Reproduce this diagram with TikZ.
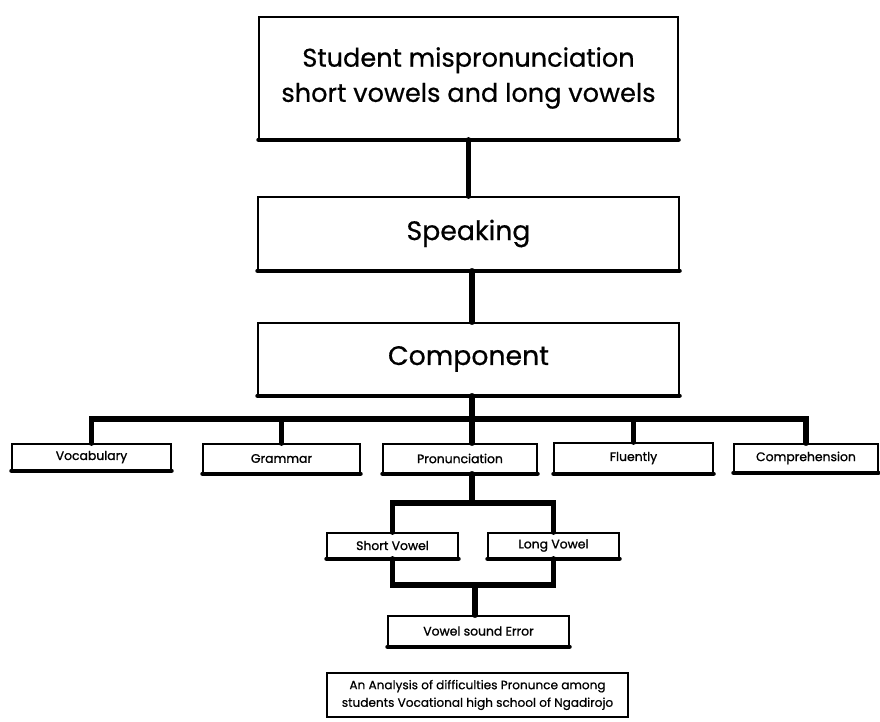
\documentclass[tikz,border=0pt]{standalone}
\usepackage{fontspec}
\setmainfont{Poppins}[FakeBold=0.6]
\newfontfamily\labelfont{Poppins}[FakeBold=1.2]
\tikzset{
  box/.style 2 args={
    minimum width=#1*0.025cm,
    minimum height=#2*0.025cm,
    inner sep=0pt, align=center,
    draw, line width=0.9pt, fill=white,
  },
  head/.style={font=\fontsize{19}{26}\selectfont},
  item/.style={font=\labelfont\fontsize{8.8}{11}\selectfont},
  base/.style={line width=3pt, line cap=round},
  link/.style={line width=3.6pt, line cap=round},
}

\begin{document}
\begin{tikzpicture}[x=0.025cm, y=-0.025cm]
\useasboundingbox (0,0) rectangle (880,722);
\node[box={419}{122}, head, font=\fontsize{18.2}{25}\selectfont] (top) at (468.5,78)
  {Student mispronunciation\\short vowels and long vowels};
\node[box={421}{73}, head] (speak) at (468.5,233.5) {Speaking};
\node[box={421}{72}, head] (comp) at (468.5,359) {Component};
\foreach \n/\x/\y/\w/\h/\t in {
    voc/91.5/457/159/26/Vocabulary,
    gram/281.5/458.5/157/29/Grammar,
    pron/460/458.5/154/29/Pronunciation,
    flu/633.5/458/159/30/Fluently,
    compr/806/458/144/28/Comprehension,
    short/392.5/545.5/131/25/Short Vowel,
    long/553.5/545.5/131/25/Long Vowel,
    err/478.5/631/181/30/Vowel sound Error} {
  \node[box={\w}{\h}, item] (\n) at (\x,\y) {\t};
}
\node[box={301}{44}, item, font=\fontsize{8.6}{12.5}\selectfont] (note) at (477.5,695)
  {An Analysis of difficulties Pronunce among\\students Vocational high school of Ngadirojo};
\foreach \n in {top,speak,comp,voc,gram,pron,flu,compr,short,long,err}
  \draw[base] (\n.south west) -- (\n.south east);

\coordinate (hub) at (472,419);
\coordinate (fork) at (472,503);
\coordinate (join) at (475,585);
\begin{scope}[link]
  \draw (top.south) -- (speak.north);
  \draw (speak.south -| hub) -- (comp.north -| hub);
  \draw (comp.south -| hub) -- (hub);
  \foreach \n in {voc,gram,flu,compr}
    \draw (hub) -| (\n.north);
  \draw (hub) -- (pron.north -| hub);
  \draw (pron.south -| fork) -- (fork);
  \draw (fork) -| (short.north);
  \draw (fork) -| (long.north);
  \draw (short.south) |- (join) -| (long.south);
  \draw (join) -- (err.north -| join);
\end{scope}
\end{tikzpicture}
\end{document}
